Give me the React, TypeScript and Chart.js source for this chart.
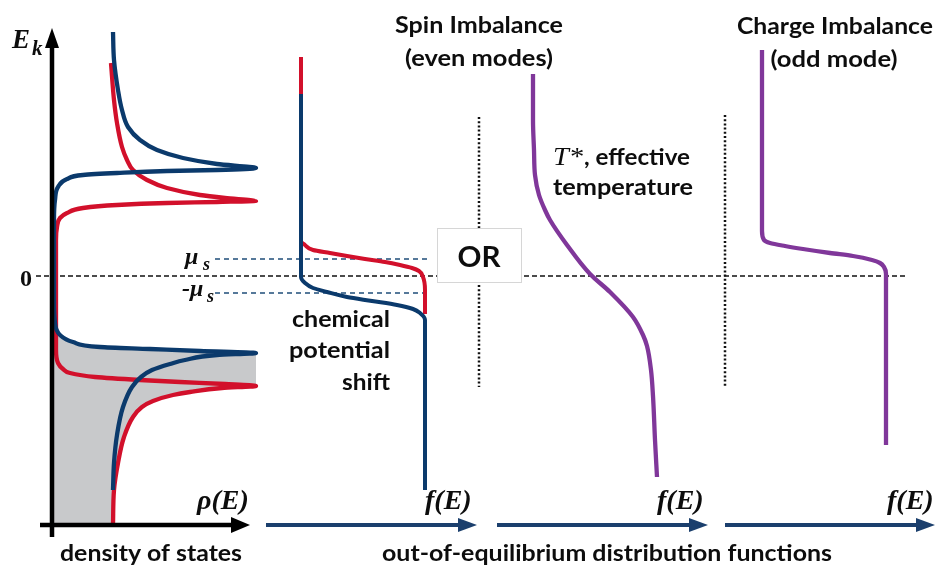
import React, { useEffect, useRef } from "react";
import { Chart, registerables } from "chart.js";

Chart.register(...registerables);

// Energy E (arbitrary units, 0 = Fermi level).
// ---- density of states, spin-up (blue) ----
const upDosE = [244, 216, 186, 166, 149, 136, 126, 118, 112, 108, 106, 105, 103, 101, 97, 89, 76, 56, 0, -24, -47, -59, -66, -71, -73, -75, -77, -79, -84, -88, -94, -101, -111, -131, -159, -187, -214];
const upDosRho = [113, 114, 118, 122, 128, 140, 157, 183, 217, 256, 217, 167, 117, 83, 67, 58, 55, 54, 54, 54, 55, 60, 73, 100, 150, 200, 256, 217, 185, 170, 152, 141, 132, 123, 117, 114, 113];
// ---- density of states, spin-down (red) ----
const downDosE = [213, 176, 153, 129, 116, 106, 96, 88, 81, 78, 75, 74, 73, 71, 68, 63, 58, 49, 36, 0, -54, -74, -87, -93, -97, -101, -104, -106, -108, -110, -112, -116, -119, -125, -131, -141, -161, -187, -214, -249];
const downDosRho = [111, 114, 117, 122, 127, 133, 147, 167, 200, 225, 256, 217, 167, 117, 83, 67, 60, 57, 56, 56, 56, 56, 58, 63, 70, 95, 140, 180, 225, 256, 222, 190, 173, 153, 142, 133, 124, 118, 114, 113];
// ---- occupied states (grey area) ----
const occE = [0, -24, -47, -59, -66, -71, -73, -75, -77, -110, -112, -116, -119, -125, -131, -141, -161, -187, -214, -249];
const occRho = [54, 54, 55, 60, 73, 100, 150, 200, 256, 256, 222, 190, 173, 153, 142, 133, 124, 118, 114, 113];
// ---- distribution functions with chemical potential shift ----
const fDownE = [219, 126, 35, 31, 26, 23, 20, 17, 14, 11, 8, 5, -1, -14, -38];
const fDownX = [301, 301, 301, 305, 313, 330, 347, 365, 385, 400, 412, 419, 423, 425, 425];
const fUpE = [182, 76, -1, -7, -12, -16, -21, -25, -29, -33, -37, -44, -64, -214];
const fUpX = [301, 301, 301, 305, 313, 327, 347, 372, 397, 413, 420, 425, 425, 425];
// ---- effective temperature (even mode) ----
const fEvenE = [202, 156, 126, 101, 81, 66, 56, 31, 2, -16, -41, -59, -70, -94, -120, -164, -201];
const fEvenX = [533, 533, 534, 535, 539, 545, 550, 567, 590, 610, 633, 643, 647, 651, 653, 655, 657];
// ---- charge imbalance (odd mode) ----
const fOddE = [226, 126, 45, 36, 33, 30, 27, 23, 20, 16, 13, 9, 2, -24, -169];
const fOddX = [762, 762, 762, 764, 770, 785, 803, 830, 853, 872, 880, 884, 886, 886, 886];
// ---- reference levels ----
const muS = 17;
const zeroSpan = [36, 905];
const muSpan = [215, 427];
const dividerX = [479, 725];
const dividerSpan = [[159, -111], [161, -110]];

const BLUE = "#0B3A6C";
const RED = "#D2102B";
const PURPLE = "#80379A";
const NAVY = "#1B3F6D";
const GREY = "#C8C9CB";
const INK = "#0d0d0d";

const pts = (xs: number[], es: number[]) => xs.map((x, i) => ({ x, y: es[i] }));

// arrows: line from tail to tip (data coords)
const arrows = [
  { x0: 52, e0: -261, x1: 52, e1: 248, dir: "up", len: 20, half: 7, color: "#000", width: 4.5 },
  { x0: 40, e0: -249, x1: 250, e1: -249, dir: "right", len: 19, half: 8, color: "#000", width: 4.5 },
  { x0: 266, e0: -249, x1: 477, e1: -249, dir: "right", len: 19, half: 7, color: NAVY, width: 4 },
  { x0: 497, e0: -249, x1: 708, e1: -249, dir: "right", len: 19, half: 7, color: NAVY, width: 4 },
  { x0: 725, e0: -249, x1: 935, e1: -249, dir: "right", len: 19, half: 7, color: NAVY, width: 4 },
];

const SANS = '"Lato", "Open Sans", sans-serif';
const SERIF = '"Liberation Serif", "DejaVu Serif", serif';

const labels = [
  { text: "Spin Imbalance", x: 479, e: 243, font: `bold 22px ${SANS}`, align: "center", width: 168 },
  { text: "(even modes)", x: 479, e: 210, font: `bold 22px ${SANS}`, align: "center", width: 148 },
  { text: "Charge Imbalance", x: 835, e: 242, font: `bold 22px ${SANS}`, align: "center", width: 196 },
  { text: "(odd mode)", x: 834, e: 209, font: `bold 22px ${SANS}`, align: "center", width: 127 },
  { text: "chemical", x: 390, e: -51, font: `bold 22px ${SANS}`, align: "right", width: 98 },
  { text: "potential", x: 390, e: -82, font: `bold 22px ${SANS}`, align: "right", width: 101 },
  { text: "shift", x: 390, e: -114, font: `bold 22px ${SANS}`, align: "right", width: 48 },
  { text: "T*", x: 553, e: 111, font: `italic 25px ${SERIF}`, align: "left", width: 30 },
  { text: ", effective", x: 584, e: 111, font: `bold 22px ${SANS}`, align: "left", width: 106 },
  { text: "temperature", x: 553, e: 81, font: `bold 22px ${SANS}`, align: "left", width: 140 },
  { text: "density of states", x: 151, e: -285, font: `bold 22px ${SANS}`, align: "center", width: 182 },
  { text: "out-of-equilibrium distribution functions", x: 607, e: -285, font: `bold 22px ${SANS}`, align: "center", width: 450 },
  { text: "OR", x: 479, e: 9, font: `bold 29px ${SANS}`, align: "center", width: 43 },
  { text: "0", x: 26, e: -10, font: `bold 24px ${SERIF}`, align: "center" },
  { text: "E", x: 12, e: 228, font: `bold italic 27px ${SERIF}`, align: "left" },
  { text: "k", x: 32, e: 221, font: `bold italic 21px ${SERIF}`, align: "left" },
  { text: "μ", x: 185, e: 12, font: `bold italic 24px ${SERIF}`, align: "left" },
  { text: "s", x: 203, e: 6, font: `bold italic 18px ${SERIF}`, align: "left" },
  { text: "-μ", x: 182, e: -20, font: `bold italic 24px ${SERIF}`, align: "left" },
  { text: "s", x: 207, e: -26, font: `bold italic 18px ${SERIF}`, align: "left" },
  { text: "ρ(E)", x: 197, e: -233, font: `bold italic 28px ${SERIF}`, align: "left" },
  { text: "f(E)", x: 425, e: -233, font: `bold italic 28px ${SERIF}`, align: "left" },
  { text: "f(E)", x: 657, e: -233, font: `bold italic 28px ${SERIF}`, align: "left" },
  { text: "f(E)", x: 887, e: -233, font: `bold italic 28px ${SERIF}`, align: "left" },
];

const orBox = { x0: 437, x1: 521, e0: 48, e1: -6 };

const overlayPlugin = {
  id: "overlay",
  afterDatasetsDraw(chart: any) {
    const { ctx } = chart;
    const sx = chart.scales.x;
    const sy = chart.scales.y;
    const X = (v: number) => sx.getPixelForValue(v);
    const Y = (v: number) => sy.getPixelForValue(v);
    ctx.save();
    // OR box
    const bx = X(orBox.x0), by = Y(orBox.e0), bw = X(orBox.x1) - bx, bh = Y(orBox.e1) - by;
    ctx.fillStyle = "#ffffff";
    ctx.fillRect(bx, by, bw, bh);
    ctx.strokeStyle = "#D6D6D6";
    ctx.lineWidth = 1;
    ctx.strokeRect(Math.round(bx) + 0.5, Math.round(by) + 0.5, Math.round(bw), Math.round(bh));
    // arrowheads
    arrows.forEach((a) => {
      const tx = X(a.x1), ty = Y(a.e1);
      ctx.fillStyle = a.color;
      ctx.beginPath();
      if (a.dir === "up") {
        ctx.moveTo(tx, ty);
        ctx.lineTo(tx - a.half, ty + a.len);
        ctx.lineTo(tx + a.half, ty + a.len);
      } else {
        ctx.moveTo(tx, ty);
        ctx.lineTo(tx - a.len, ty - a.half);
        ctx.lineTo(tx - a.len, ty + a.half);
      }
      ctx.closePath();
      ctx.fill();
    });
    // texts
    labels.forEach((t: any) => {
      ctx.save();
      ctx.font = t.font;
      ctx.fillStyle = INK;
      ctx.textBaseline = "alphabetic";
      ctx.textAlign = "left";
      const w = ctx.measureText(t.text).width;
      const s = t.width ? t.width / w : 1;
      const dw = w * s;
      let x0 = X(t.x);
      if (t.align === "center") x0 -= dw / 2;
      else if (t.align === "right") x0 -= dw;
      ctx.translate(x0, Y(t.e));
      ctx.scale(s, 1);
      ctx.fillText(t.text, 0, 0);
      ctx.restore();
    });
    ctx.restore();
  },
};

export default function App() {
  const ref = useRef<HTMLCanvasElement | null>(null);
  useEffect(() => {
    if (!ref.current) return;
    const curve = (data: any[], color: string, width: number, order: number) => ({
      data,
      borderColor: color,
      borderWidth: width,
      pointRadius: 0,
      indexAxis: "y",
      cubicInterpolationMode: "monotone",
      borderCapStyle: "butt",
      fill: false,
      order,
    });
    const straight = (data: any[], color: string, width: number, order: number, dash: number[] = []) => ({
      data,
      borderColor: color,
      borderWidth: width,
      borderDash: dash,
      pointRadius: 0,
      tension: 0,
      fill: false,
      order,
    });
    const datasets: any[] = [
      straight([{ x: zeroSpan[0], y: 0 }, { x: zeroSpan[1], y: 0 }], "#111", 1.3, 40, [5, 3]),
      straight([{ x: muSpan[0], y: muS }, { x: muSpan[1], y: muS }], "#1F4E79", 1.3, 40, [5, 4]),
      straight([{ x: muSpan[0], y: -muS }, { x: muSpan[1], y: -muS }], "#1F4E79", 1.3, 40, [5, 4]),
      ...dividerX.map((x, i) =>
        straight([{ x, y: dividerSpan[i][0] }, { x, y: dividerSpan[i][1] }], "#111", 2.5, 40, [2, 2.2])
      ),
      {
        data: pts(occRho, occE),
        borderColor: "rgba(0,0,0,0)",
        borderWidth: 1,
        backgroundColor: GREY,
        pointRadius: 0,
        indexAxis: "y",
        cubicInterpolationMode: "monotone",
        fill: { value: 52 },
        order: 30,
      },
      curve(pts(downDosRho, downDosE), RED, 4.3, 9),
      curve(pts(upDosRho, upDosE), BLUE, 4.3, 8),
      curve(pts(fDownX, fDownE), RED, 4, 7),
      curve(pts(fUpX, fUpE), BLUE, 4, 6),
      curve(pts(fEvenX, fEvenE), PURPLE, 4.3, 5),
      curve(pts(fOddX, fOddE), PURPLE, 4.3, 5),
      ...arrows.map((a) => {
        const end =
          a.dir === "up"
            ? { x: a.x1, y: a.e1 - a.len + 1 }
            : { x: a.x1 - a.len + 1, y: a.e1 };
        return straight([{ x: a.x0, y: a.e0 }, end], a.color, a.width, 1);
      }),
    ];
    const chart = new Chart(ref.current, {
      type: "line",
      data: { datasets },
      options: {
        responsive: false,
        maintainAspectRatio: false,
        devicePixelRatio: 1,
        animation: false,
        layout: { padding: 0 },
        plugins: { legend: { display: false }, tooltip: { enabled: false }, title: { display: false } },
        events: [],
        scales: {
          x: { type: "linear", min: 0, max: 938, display: false },
          y: { type: "linear", min: -289, max: 276, display: false },
        },
      } as any,
      plugins: [overlayPlugin],
    });
    return () => chart.destroy();
  }, []);
  return (
    <div style={{ position: "absolute", left: 0, top: 0, width: 938, height: 565, background: "#fff" }}>
      <canvas ref={ref} width={938} height={565} style={{ display: "block" }} />
    </div>
  );
}
